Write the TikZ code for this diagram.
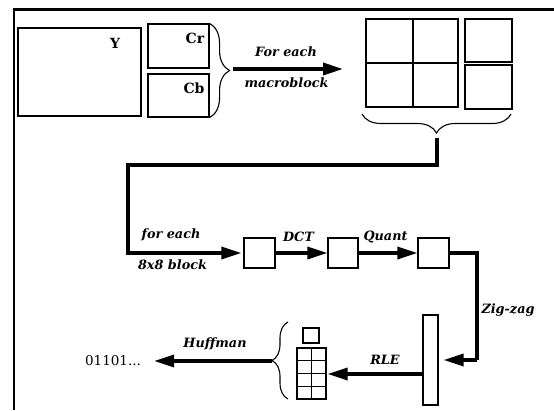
\documentclass[tikz,border=0pt]{standalone}
\usepackage{fontspec}
\setmainfont{DejaVu Serif}
\usetikzlibrary{arrows.meta,decorations.pathreplacing,calc}
\begin{document}
\begin{tikzpicture}[x=1pt,y=-1pt,
  box/.style={draw,line width=1.1pt,inner sep=0pt},
  lbl/.style={font=\bfseries\itshape\fontsize{12.8}{14}\selectfont,inner sep=0pt},
  chan/.style={font=\bfseries\fontsize{14}{16}\selectfont,inner sep=0pt},
  flow/.style={line width=3.3pt,line join=miter,-{Triangle[length=20pt,width=12pt]}},
  flowline/.style={line width=3.3pt,line join=miter},
  brc/.style={line width=1.1pt,decorate,decoration={brace,amplitude=#1}}]
\useasboundingbox (0,0) rectangle (554,410);
% frame
\draw[line width=2.8pt] (554,9.5) -- (14,9.5) -- (14,410);
% Y, Cr, Cb
\node[box,minimum width=123pt,minimum height=88pt] (Y) at (79.5,72) {};
\node[chan] (Yt) at (115,43) {Y};
\node[box,minimum width=61pt,minimum height=44pt] (Cr) at (178.5,46) {};
\node[chan] (Crt) at (195,38) {Cr};
\node[box,minimum width=61pt,minimum height=43pt] (Cb) at (178.5,95.5) {};
\node[chan] (Cbt) at (194,88) {Cb};
\draw[brc=20pt] (Cr.north east) -- (Cb.south east);
\coordinate (b1) at (233,69);
\coordinate (a1) at (343,69);
\draw[flow] (b1) -- (a1);
\node[lbl] (fe1) at (286,52) {For each};
\node[lbl] (mb) at (286.5,83) {macroblock};
% macroblock grid
\node[box,minimum width=47pt,minimum height=44pt] (g11) at (389.5,41) {};
\node[box,minimum width=45pt,minimum height=44pt] (g12) at (435.5,41) {};
\node[box,minimum width=47pt,minimum height=44pt] (g21) at (389.5,85) {};
\node[box,minimum width=45pt,minimum height=44pt] (g22) at (435.5,85) {};
\node[box,minimum width=47pt,minimum height=43pt] (r1) at (488.5,40.5) {};
\node[box,minimum width=47pt,minimum height=44pt] (r2) at (488.5,87) {};
\draw[brc=19pt] (511,114) -- (362,114);
\coordinate (s2) at (437,138);
% blocks
\node[box,minimum width=31pt,minimum height=30pt] (k1) at (259.5,253) {};
\node[box,minimum width=30pt,minimum height=30pt] (k2) at (343,253) {};
\node[box,minimum width=31pt,minimum height=30pt] (k3) at (433.5,253) {};
\draw[flow,shorten >=2pt] (s2) |- (128,165) |- (k1.west);
\draw[flow] (k1.east) -- (k2.west);
\draw[flow] (k2.east) -- (k3.west);
\node[lbl] (fe2) at (171,235) {for each};
\node[lbl] (bl) at (172.5,265) {8x8 block};
\node[lbl] (dct) at (298.5,237) {DCT};
\node[lbl] (qt) at (385.5,237) {Quant};
% zig-zag vector
\node[box,minimum width=15pt,minimum height=90pt] (vr) at (430.5,360) {};
\coordinate (z1) at (477,360);
\draw[flowline] (k3.east) -| (z1);
\draw[flow,shorten >=5pt] (z1) -- (vr.east);
\node[lbl] (zz) at (508,310) {Zig-zag};
% RLE output
\node[box,minimum width=16pt,minimum height=15pt] (sq) at (311,335.5) {};
\foreach \r/\yy in {1/354.4,2/367.1,3/379.9,4/392.6}{
  \node[box,minimum width=14.5pt,minimum height=12.75pt] (s\r a) at (304.25,\yy) {};
  \node[box,minimum width=14.5pt,minimum height=12.75pt] (s\r b) at (318.75,\yy) {};
}
\coordinate (rl) at (423,374);
\draw[flow,shorten >=1pt] (rl) -- (rl -| s3b.east);
\node[lbl] (rle) at (385,360) {RLE};
\draw[brc=16pt] (288,399) -- (288,322);
\coordinate (h1) at (272,361);
\node[font=\fontsize{13.5}{15}\selectfont,inner sep=0pt] (out) at (113,361) {01101...};
\draw[flow,shorten >=13pt] (h1) -- (out.east);
\node[lbl] (hf) at (215,344) {Huffman};
\end{tikzpicture}
\end{document}
